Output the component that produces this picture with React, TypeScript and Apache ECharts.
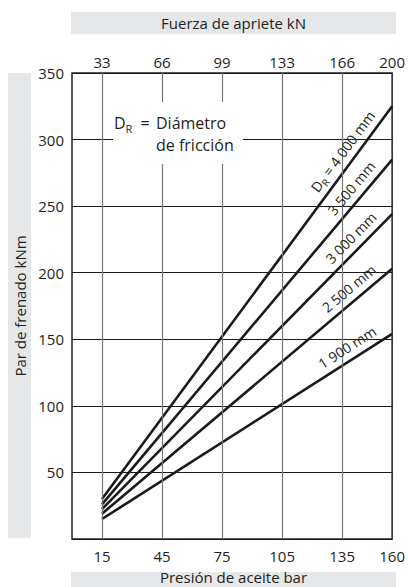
import React, { useEffect, useRef } from 'react';
import * as echarts from 'echarts';

const FONT = '"Open Sans", "Noto Sans", sans-serif';
const INK = '#231f20';

// Data
const pressure = [15, 160]; // bar
const torque4000 = [30, 325];
const torque3500 = [26, 285];
const torque3000 = [22.5, 244];
const torque2500 = [19, 203];
const torque1900 = [15, 154];
const diameterLabels = ['4 000 mm', '3 500 mm', '3 000 mm', '2 500 mm', '1 900 mm'];

const bottomTicks = [15, 45, 75, 105, 135, 160];
const topTickLabels = ['33', '66', '99', '133', '166', '200'];
const gridXValues = [15, 45, 75, 105, 135];

const xTitle = 'Presión de aceite bar';
const topTitle = 'Fuerza de apriete kN';
const yTitle = 'Par de frenado kNm';

export default function App() {
  const ref = useRef<HTMLDivElement>(null);
  useEffect(() => {
    const chart = echarts.init(ref.current!, null, { renderer: 'svg' });
    const lines = [torque4000, torque3500, torque3000, torque2500, torque1900];

    chart.setOption({
      animation: false,
      backgroundColor: '#ffffff',
      textStyle: { fontFamily: FONT },
      grid: {
        left: 72, right: 13, top: 73, bottom: 48,
        show: true, borderColor: INK, borderWidth: 1.5, backgroundColor: 'transparent',
      },
      xAxis: [
        {
          type: 'value', min: 0, max: 160, position: 'bottom',
          axisLine: { show: false }, axisTick: { show: false }, splitLine: { show: false },
          axisLabel: {
            customValues: bottomTicks, margin: 9, color: INK, fontSize: 15, fontFamily: FONT,
          },
        },
        {
          type: 'value', min: 0, max: 160, position: 'top',
          axisLine: { show: false }, axisTick: { show: false }, splitLine: { show: false },
          axisLabel: {
            customValues: bottomTicks, margin: 4, color: INK, fontSize: 15, fontFamily: FONT,
            formatter: (v: number) => topTickLabels[bottomTicks.indexOf(v)] ?? '',
          },
        },
      ],
      yAxis: {
        type: 'value', min: 0, max: 350, interval: 50,
        axisLine: { show: false }, axisTick: { show: false },
        splitLine: { show: true, lineStyle: { color: '#1a1a1a', width: 1 } },
        axisLabel: { showMinLabel: false, margin: 8, color: INK, fontSize: 15, fontFamily: FONT },
      },
      series: [
        {
          type: 'line', data: [], z: 1, silent: true,
          markLine: {
            silent: true, symbol: 'none', label: { show: false },
            lineStyle: { color: '#777777', width: 1.2, type: 'solid' },
            data: gridXValues.map((x) => ({ xAxis: x })),
          },
        },
        ...lines.map((vals, i) => ({
          type: 'line', name: diameterLabels[i], z: 4, symbol: 'none', silent: true,
          data: pressure.map((p, j) => [p, vals[j]]),
          lineStyle: { color: '#1a1a1a', width: 2.6 },
        })),
      ],
    });

    // label placement along each line (x in bar where label sits)
    const labelAlongX = [140.5, 144.5, 144, 142.5, 141];
    const labelOffset = 13;
    const lineLabels = lines.map((vals, i) => {
      const p0 = chart.convertToPixel({ xAxisIndex: 0, yAxisIndex: 0 }, [pressure[0], vals[0]]) as number[];
      const p1 = chart.convertToPixel({ xAxisIndex: 0, yAxisIndex: 0 }, [pressure[1], vals[1]]) as number[];
      const a = Math.atan2(p0[1] - p1[1], p1[0] - p0[0]);
      const t = (labelAlongX[i] - pressure[0]) / (pressure[1] - pressure[0]);
      const px = p0[0] + t * (p1[0] - p0[0]);
      const py = p0[1] + t * (p1[1] - p0[1]);
      const cx = px - Math.sin(a) * labelOffset;
      const cy = py - Math.cos(a) * labelOffset;
      const text = i === 0 ? `{d|D}{s|R}{d| = ${diameterLabels[i]}}` : `{d|${diameterLabels[i]}}`;
      return {
        type: 'text', x: cx, y: cy, rotation: a, z: 10,
        style: {
          text, align: 'center', verticalAlign: 'middle', fill: INK,
          font: `14px ${FONT}`,
          rich: {
            d: { fontSize: 14, fontFamily: FONT, fill: INK, lineHeight: 19 },
            s: { fontSize: 10, fontFamily: FONT, fill: INK, lineHeight: 12, verticalAlign: 'bottom' },
          },
        },
      };
    });

    const bandFill = '#e6e7e8';
    chart.setOption({
      graphic: {
        elements: [
          { type: 'rect', shape: { x: 71, y: 12, width: 325, height: 22 }, style: { fill: bandFill }, z: 1 },
          { type: 'rect', shape: { x: 71, y: 572, width: 325, height: 22 }, style: { fill: bandFill }, z: 1 },
          { type: 'rect', shape: { x: 8, y: 73, width: 23, height: 465 }, style: { fill: bandFill }, z: 1 },
          {
            type: 'text', x: 233.5, y: 23, z: 2,
            style: { text: topTitle, align: 'center', verticalAlign: 'middle', fill: INK, font: `15px ${FONT}` },
          },
          {
            type: 'text', x: 233.5, y: 577, z: 2,
            style: { text: xTitle, align: 'center', verticalAlign: 'middle', fill: INK, font: `15px ${FONT}` },
          },
          {
            type: 'text', x: 20, y: 306, rotation: Math.PI / 2, z: 2,
            style: { text: yTitle, align: 'center', verticalAlign: 'middle', fill: INK, font: `15px ${FONT}` },
          },
          // annotation box covering grid lines
          { type: 'rect', shape: { x: 113, y: 102, width: 130, height: 62 }, style: { fill: '#ffffff' }, z: 8 },
          {
            type: 'text', x: 114, y: 123, z: 9,
            style: {
              text: '{d|D}{s|R}', align: 'left', verticalAlign: 'middle', fill: INK,
              font: `16px ${FONT}`,
              rich: {
                d: { fontSize: 16, fontFamily: FONT, fill: INK, lineHeight: 22 },
                s: { fontSize: 11, fontFamily: FONT, fill: INK, lineHeight: 13, verticalAlign: 'bottom' },
              },
            },
          },
          {
            type: 'text', x: 145, y: 123, z: 9,
            style: { text: '=', align: 'center', verticalAlign: 'middle', fill: INK, font: `16px ${FONT}` },
          },
          {
            type: 'text', x: 156, y: 123, z: 9,
            style: { text: 'Diámetro', align: 'left', verticalAlign: 'middle', fill: INK, font: `16px ${FONT}` },
          },
          {
            type: 'text', x: 156, y: 145, z: 9,
            style: { text: 'de fricción', align: 'left', verticalAlign: 'middle', fill: INK, font: `16px ${FONT}` },
          },
          ...lineLabels,
        ],
      },
    });

    return () => chart.dispose();
  }, []);

  return <div ref={ref} style={{ position: 'fixed', left: 0, top: 0, width: 408, height: 587 }} />;
}
